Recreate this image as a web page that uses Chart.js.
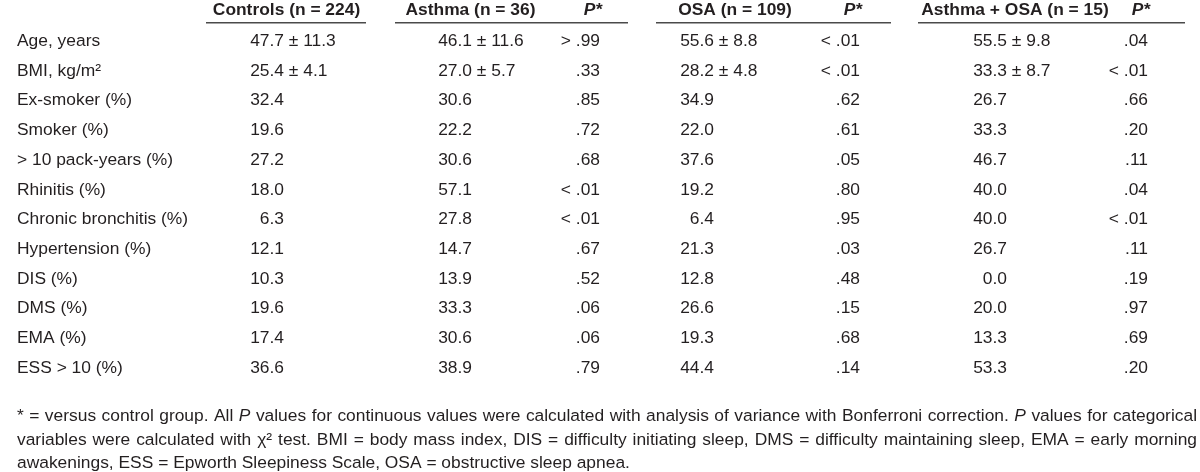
<!DOCTYPE html>
<html>
<head>
<meta charset="utf-8">
<script src="https://cdn.jsdelivr.net/npm/chart.js@4"></script>
<style>
    html, body { margin: 0; padding: 0; background: #fff; }
    #wrap { width: 1200px; height: 472px; position: relative; }
</style>
</head>
<body>
<div id="wrap"><canvas id="table-canvas"></canvas></div>
<script>
// Table data
const rowLabels = ['Age, years', 'BMI, kg/m²', 'Ex-smoker (%)', 'Smoker (%)', '> 10 pack-years (%)', 'Rhinitis (%)',
    'Chronic bronchitis (%)', 'Hypertension (%)', 'DIS (%)', 'DMS (%)', 'EMA (%)', 'ESS > 10 (%)'];

const groupTitles = ['Controls (n = 224)', 'Asthma (n = 36)', 'OSA (n = 109)', 'Asthma + OSA (n = 15)'];

const controls = ['47.7 ± 11.3', '25.4 ± 4.1', '32.4', '19.6', '27.2', '18.0', '6.3', '12.1', '10.3', '19.6', '17.4', '36.6'];
const asthma = ['46.1 ± 11.6', '27.0 ± 5.7', '30.6', '22.2', '30.6', '57.1', '27.8', '14.7', '13.9', '33.3', '30.6', '38.9'];
const asthmaP = ['> .99', '.33', '.85', '.72', '.68', '< .01', '< .01', '.67', '.52', '.06', '.06', '.79'];
const osa = ['55.6 ± 8.8', '28.2 ± 4.8', '34.9', '22.0', '37.6', '19.2', '6.4', '21.3', '12.8', '26.6', '19.3', '44.4'];
const osaP = ['< .01', '< .01', '.62', '.61', '.05', '.80', '.95', '.03', '.48', '.15', '.68', '.14'];
const both = ['55.5 ± 9.8', '33.3 ± 8.7', '26.7', '33.3', '46.7', '40.0', '40.0', '26.7', '0.0', '20.0', '13.3', '53.3'];
const bothP = ['.04', '< .01', '.66', '.20', '.11', '.04', '< .01', '.11', '.19', '.97', '.69', '.20'];

// footnote: runs of [text, italic]
const footLines = [
    [['* = versus control group. All ', false], ['P', true], [' values for continuous values were calculated with analysis of variance with Bonferroni correction. ', false], ['P', true], [' values for categorical', false]],
    [['variables were calculated with χ² test. BMI = body mass index, DIS = difficulty initiating sleep, DMS = difficulty maintaining sleep, EMA = early morning', false]],
    [['awakenings, ESS = Epworth Sleepiness Scale, OSA = obstructive sleep apnea.', false]]
];

// Layout (x in scale units 0..1200)
const FONT = '"Liberation Sans", Arial, Helvetica, sans-serif';
const SIZE = 17.4;
const TEXT = '#231f20';
const ROW_PITCH = 29.7;
const FIRST_BASE = 46;
const LABEL_X = 17;
const FOOT_RIGHT = 1197;

const columns = [
    { title: groupTitles[0], center: 286.5, line: [206, 366], vals: controls, anchor: 284 },
    { title: groupTitles[1], center: 470.5, line: [395, 628], vals: asthma, anchor: 472, p: asthmaP, pRight: 600 },
    { title: groupTitles[2], center: 735, line: [656, 891], vals: osa, anchor: 714, p: osaP, pRight: 860 },
    { title: groupTitles[3], center: 1015, line: [918, 1185], vals: both, anchor: 1007, p: bothP, pRight: 1148 }
];

const fnt = (style) => `${style} ${SIZE}px ${FONT}`;

function drawValue(ctx, str, ax, by) {
    const parts = str.split(' ± ');
    ctx.textAlign = 'right';
    ctx.fillText(parts[0], ax, by);
    if (parts.length > 1) {
        ctx.textAlign = 'left';
        ctx.fillText(' ± ' + parts[1], ax, by);
    }
}

// draw a line of mixed italic/roman runs, justified to width if given
function drawRuns(ctx, runs, x0, by, width) {
    const words = [];
    runs.forEach(([t, it]) => {
        const pieces = t.split(' ');
        pieces.forEach((w, i) => {
            if (i > 0) words.push({ space: true, it });
            if (w.length) words.push({ t: w, it });
        });
    });
    let natural = 0, spaces = 0;
    words.forEach(w => {
        ctx.font = fnt(w.it ? 'italic' : 'normal');
        if (w.space) { natural += ctx.measureText(' ').width; spaces++; }
        else natural += ctx.measureText(w.t).width;
    });
    let extra = 0, sx = 1;
    if (width) {
        if (natural <= width) extra = (width - natural) / spaces;
        else sx = width / natural;
    }
    ctx.save();
    ctx.translate(x0, by);
    ctx.scale(sx, 1);
    ctx.textAlign = 'left';
    let cx = 0;
    words.forEach(w => {
        ctx.font = fnt(w.it ? 'italic' : 'normal');
        if (w.space) cx += ctx.measureText(' ').width + extra;
        else { ctx.fillText(w.t, cx, 0); cx += ctx.measureText(w.t).width; }
    });
    ctx.restore();
}

const tablePlugin = {
    id: 'tableText',
    afterDraw(chart) {
        const { ctx, chartArea, scales: { x, y } } = chart;
        ctx.save();
        ctx.fillStyle = TEXT;
        ctx.textBaseline = 'alphabetic';

        // headers
        const headBase = chartArea.top - 15.7;
        const lineY = chartArea.top - 8.5;
        columns.forEach(c => {
            ctx.font = fnt('bold');
            ctx.textAlign = 'center';
            ctx.fillText(c.title, x.getPixelForValue(c.center), headBase);
            if (c.p) {
                ctx.font = fnt('italic bold');
                ctx.textAlign = 'right';
                ctx.fillText('P*', x.getPixelForValue(c.pRight + 2), headBase);
            }
            ctx.strokeStyle = '#4a4a4a';
            ctx.lineWidth = 1.5;
            ctx.beginPath();
            ctx.moveTo(x.getPixelForValue(c.line[0]), lineY);
            ctx.lineTo(x.getPixelForValue(c.line[1]), lineY);
            ctx.stroke();
        });

        // body rows
        ctx.font = fnt('normal');
        rowLabels.forEach((lab, i) => {
            const by = y.getPixelForValue(i);
            ctx.textAlign = 'left';
            ctx.fillText(lab, x.getPixelForValue(LABEL_X), by);
            columns.forEach(c => {
                drawValue(ctx, c.vals[i], x.getPixelForValue(c.anchor), by);
                if (c.p) {
                    ctx.textAlign = 'right';
                    ctx.fillText(c.p[i], x.getPixelForValue(c.pRight), by);
                }
            });
        });

        // footnote
        const fx = x.getPixelForValue(LABEL_X);
        const fw = x.getPixelForValue(FOOT_RIGHT) - fx;
        const footBase = [33.5, 57, 80.5];
        footLines.forEach((runs, i) => {
            drawRuns(ctx, runs, fx, chartArea.bottom + footBase[i], i < 2 ? fw : null);
        });
        ctx.restore();
    }
};

const rowsSpan = ROW_PITCH * rowLabels.length;
const padTop = FIRST_BASE - ROW_PITCH / 2;
const padBottom = 472 - padTop - rowsSpan;

new Chart(document.getElementById('table-canvas'), {
    type: 'scatter',
    data: { labels: rowLabels, datasets: [] },
    options: {
        responsive: true,
        maintainAspectRatio: false,
        animation: false,
        layout: { padding: { left: 0, right: 0, top: padTop, bottom: padBottom } },
        plugins: { legend: { display: false }, tooltip: { enabled: false } },
        scales: {
            x: { type: 'linear', min: 0, max: 1200, display: false },
            y: { type: 'category', labels: rowLabels, offset: true, display: false }
        }
    },
    plugins: [tablePlugin]
});
</script>
</body>
</html>
